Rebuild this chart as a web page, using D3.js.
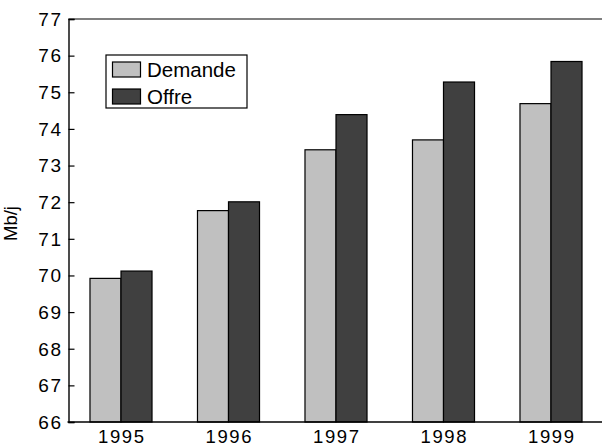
<!DOCTYPE html>
<html lang="fr">
<head>
<meta charset="utf-8">
<title>Demande et offre</title>
<script src="https://cdn.jsdelivr.net/npm/d3@7"></script>
<style>
  body { margin: 0; background: #fff; }
  text { font-family: "Liberation Sans", Arial, sans-serif; fill: #000; }
</style>
</head>
<body>
<script>
  var w = 602;
  var h = 447;

  // data
  var years = ["1995", "1996", "1997", "1998", "1999"];
  var demande = [69.92, 71.77, 73.43, 73.70, 74.69];
  var offre = [70.12, 72.01, 74.39, 75.28, 75.84];
  var series = ["Demande", "Offre"];
  var yTicks = [66, 67, 68, 69, 70, 71, 72, 73, 74, 75, 76, 77];

  var colors = { "Demande": "#c0c0c0", "Offre": "#404040" };

  // plot edges (window.top is taken, so own names)
  var plotLeft = 68.5, plotTop = 19, plotBottom = 422;

  var svg = d3.select("body")
              .append("svg")
              .attr("width", w)
              .attr("height", h);

  var x = d3.scaleBand()
            .domain(years)
            .range([67.25, 604.75])
            .paddingInner(0.423)
            .paddingOuter(0.2115);

  var xs = d3.scaleBand()
             .domain(series)
             .range([0, x.bandwidth()]);

  var y = d3.scaleLinear()
            .domain([66, 77])
            .range([plotBottom, plotTop]);

  // bars
  var groups = svg.selectAll("g.year")
                  .data(years)
                  .enter()
                  .append("g")
                  .attr("class", "year")
                  .attr("transform", function(d) { return "translate(" + x(d) + ",0)"; });

  groups.selectAll("rect")
        .data(function(d, i) {
          return [{ s: "Demande", v: demande[i] }, { s: "Offre", v: offre[i] }];
        })
        .enter()
        .append("rect")
        .attr("x", function(d) { return xs(d.s); })
        .attr("y", function(d) { return y(d.v); })
        .attr("width", xs.bandwidth())
        .attr("height", function(d) { return y(66) - y(d.v); })
        .attr("fill", function(d) { return colors[d.s]; })
        .attr("stroke", "#000")
        .attr("stroke-width", 1.2);

  // top frame line
  svg.append("line")
     .attr("x1", plotLeft).attr("x2", w)
     .attr("y1", plotTop).attr("y2", plotTop)
     .attr("stroke", "#000")
     .attr("stroke-width", 1.2);

  // y axis, ticks inside
  var yAxis = d3.axisRight(y)
                .tickValues(yTicks)
                .tickSize(6)
                .tickFormat("");
  var ya = svg.append("g")
              .attr("transform", "translate(" + plotLeft + ",0)")
              .call(yAxis);
  ya.select(".domain").attr("stroke-width", 1.4);
  ya.selectAll(".tick line").attr("stroke-width", 1.2);

  // digits in the original are wide, so a bit of spacing
  svg.selectAll("text.ylab")
     .data(yTicks)
     .enter()
     .append("text")
     .attr("class", "ylab")
     .attr("x", 62.5)
     .attr("y", function(d) { return y(d) + 6.8; })
     .attr("text-anchor", "end")
     .attr("font-size", 19)
     .attr("letter-spacing", 1.5)
     .text(function(d) { return d; });

  // x axis line
  svg.append("line")
     .attr("x1", plotLeft - 1).attr("x2", w)
     .attr("y1", plotBottom).attr("y2", plotBottom)
     .attr("stroke", "#000")
     .attr("stroke-width", 1.4);

  var xAxis = d3.axisBottom(x).tickSize(0).tickPadding(0);
  var xa = svg.append("g")
              .attr("transform", "translate(0," + plotBottom + ")")
              .call(xAxis);
  xa.select(".domain").remove();
  xa.selectAll("text")
    .attr("font-size", 18.5)
    .attr("font-family", "Liberation Sans, Arial, sans-serif")
    .attr("letter-spacing", 1.6)
    .attr("dx", 0.8)
    .attr("y", 21)
    .attr("dy", 0);

  // y title
  svg.append("text")
     .attr("transform", "translate(17," + ((plotTop + plotBottom) / 2 + 3) + ") rotate(-90)")
     .attr("text-anchor", "middle")
     .attr("font-size", 18.5)
     .text("Mb/j");

  // legend
  var legend = svg.append("g").attr("transform", "translate(106,55)");
  legend.append("rect")
        .attr("x", 0).attr("y", 0)
        .attr("width", 141).attr("height", 53)
        .attr("fill", "#fff")
        .attr("stroke", "#000")
        .attr("stroke-width", 1.2);

  var items = legend.selectAll("g.item")
                    .data(series)
                    .enter()
                    .append("g")
                    .attr("class", "item")
                    .attr("transform", function(d, i) { return "translate(0," + (i * 27) + ")"; });

  items.append("rect")
       .attr("x", 6.5).attr("y", 7)
       .attr("width", 28).attr("height", 15)
       .attr("fill", function(d) { return colors[d]; })
       .attr("stroke", "#000")
       .attr("stroke-width", 1.2);

  items.append("text")
       .attr("x", 41)
       .attr("y", 21.5)
       .attr("font-size", 20.5)
       .text(function(d) { return d; });
</script>
</body>
</html>
